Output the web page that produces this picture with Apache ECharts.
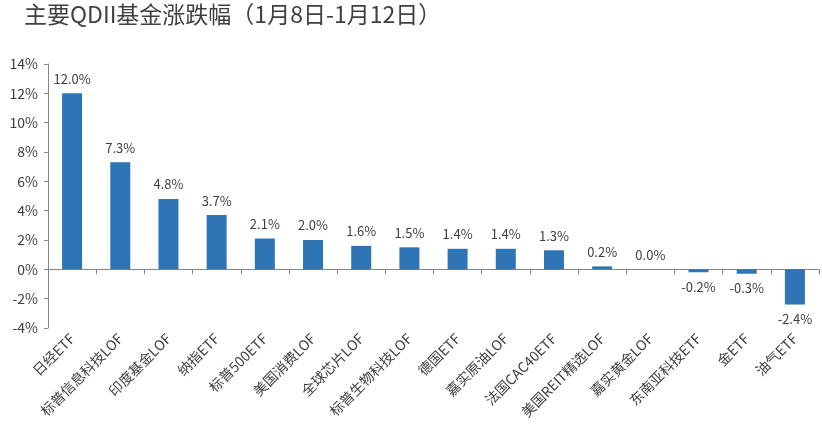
<!DOCTYPE html>
<html><head><meta charset="utf-8">
<script src="https://cdn.jsdelivr.net/npm/echarts@6/dist/echarts.min.js"></script>
<style>html,body{margin:0;padding:0;background:#fff}#c{width:822px;height:445px}</style>
</head><body><div id="c"></div>
<script>
const categories = ['日经ETF','标普信息科技LOF','印度基金LOF','纳指ETF','标普500ETF','美国消费LOF','全球芯片LOF','标普生物科技LOF','德国ETF','嘉实原油LOF','法国CAC40ETF','美国REIT精选LOF','嘉实黄金LOF','东南亚科技ETF','金ETF','油气ETF'];
const values = [12.0, 7.3, 4.8, 3.7, 2.1, 2.0, 1.6, 1.5, 1.4, 1.4, 1.3, 0.2, 0.0, -0.2, -0.3, -2.4];
const yMin = -4, yMax = 14, yStep = 2;
const titleText = '主要QDII基金涨跌幅（1月8日-1月12日）';

const font = '"Noto Sans CJK SC", "Microsoft YaHei", sans-serif';
const textColor = '#404040';
const chart = echarts.init(document.getElementById('c'));
chart.setOption({
  animation: false,
  title: {text: titleText, left: 19, top: -2, textStyle: {fontFamily: font, fontSize: 23, fontWeight: 'normal', color: textColor}},
  grid: {left: 48, right: 3, top: 64, bottom: 117, containLabel: false},
  xAxis: [
    {type: 'category', data: categories, position: 'bottom',
     axisLine: {show: false, onZero: false}, axisTick: {show: false},
     axisLabel: {interval: 0, rotate: 45, margin: 8, fontFamily: font, fontSize: 14, color: textColor}},
    {type: 'category', data: categories, position: 'bottom',
     axisLine: {show: true, onZero: true, lineStyle: {color: '#868686', width: 1}},
     axisTick: {show: true, length: 5, interval: 0, lineStyle: {color: '#868686'}},
     axisLabel: {show: false}}
  ],
  yAxis: {type: 'value', min: yMin, max: yMax, interval: yStep,
    axisLine: {show: true, lineStyle: {color: '#868686'}},
    axisTick: {show: true, length: 4, lineStyle: {color: '#868686'}},
    splitLine: {show: false},
    axisLabel: {formatter: '{value}%', margin: 10, fontFamily: font, fontSize: 14, color: textColor}},
  series: [{
    type: 'bar', xAxisIndex: 0, barWidth: 20,
    itemStyle: {color: '#2E75B6'},
    data: values.map(v => ({value: v, label: {position: v < 0 ? 'bottom' : 'top'}})),
    label: {show: true, distance: 8, formatter: p => p.value.toFixed(1) + '%', fontFamily: font, fontSize: 13, color: textColor}
  }]
});
</script></body></html>
